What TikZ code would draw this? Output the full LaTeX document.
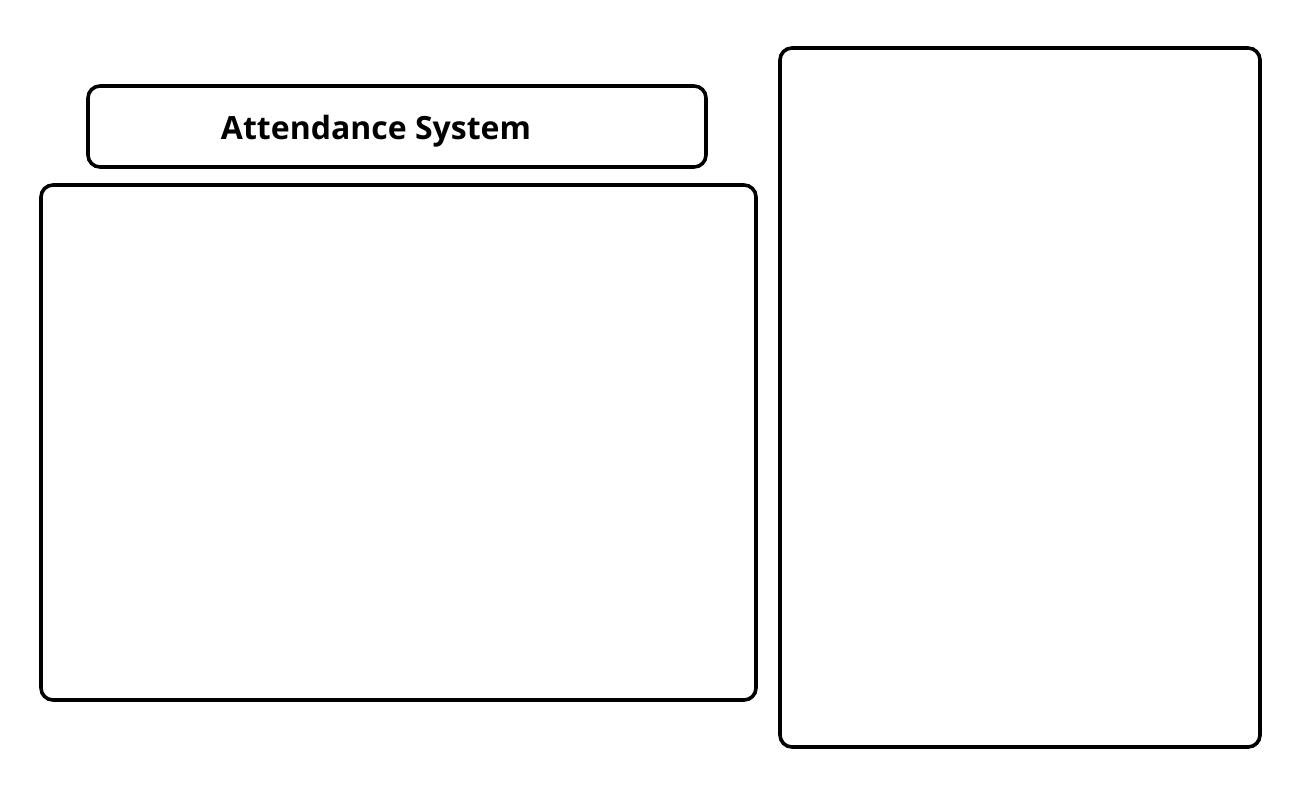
\documentclass[tikz,border=0pt]{standalone}
\usepackage{fontspec}
\setmainfont{Open Sans}
\begin{document}
\begin{tikzpicture}[x=1pt,y=-1pt,
  panel/.style={draw=black,line width=3.6pt,rounded corners=12pt,fill=white}]
\useasboundingbox[fill=white] (0,0) rectangle (1303,793);
\draw[panel] (88,86) rectangle (706,167);
\node[font=\bfseries\fontsize{32}{36}\selectfont,inner sep=0pt,anchor=base] (title) at (376,139) {Attendance System};
\draw[panel] (41,185) rectangle (756,700);
\draw[panel] (780,48) rectangle (1260,747);
\end{tikzpicture}
\end{document}
